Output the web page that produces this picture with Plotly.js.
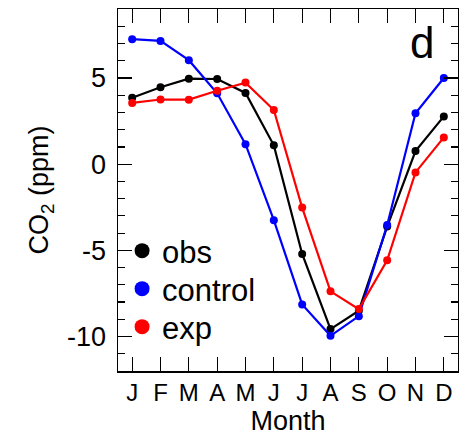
<!DOCTYPE html>
<html><head><meta charset="utf-8">
<script src="https://cdn.plot.ly/plotly-3.0.1.min.js"></script>
<style>body{margin:0;background:#fff}#c{width:459px;height:438px}</style>
</head><body><div id="c"></div>
<script>
const months = [1,2,3,4,5,6,7,8,9,10,11,12];
const monthLabels = ['J','F','M','A','M','J','J','A','S','O','N','D'];
const obs = [3.85, 4.46, 4.96, 4.94, 4.13, 1.09, -5.21, -9.57, -8.5, -3.62, 0.76, 2.77];
const control = [7.25, 7.15, 6.03, 4.11, 1.16, -3.25, -8.14, -9.96, -8.82, -3.53, 2.95, 5.0];
const expv = [3.55, 3.75, 3.74, 4.26, 4.73, 3.14, -2.52, -7.38, -8.41, -5.58, -0.48, 1.55];
const names = ['obs','control','exp'];
const colors = ['#000000','#0000ff','#ff0000'];
const series = [obs, control, expv];
const legendIds = ['legend','legend2','legend3'];

const traces = [];
series.forEach((s,i)=>{
  traces.push({x:months, y:s, mode:'lines+markers', line:{color:colors[i], width:2.2},
    marker:{color:colors[i], size:8}, showlegend:false, hoverinfo:'skip'});
});
series.forEach((s,i)=>{
  traces.push({x:[null], y:[null], mode:'markers', name:names[i], legend:legendIds[i],
    marker:{color:colors[i], size:15}, showlegend:true});
});

function leg(y){
  return {x:0.012, y:y, xanchor:'left', yanchor:'middle', bgcolor:'rgba(0,0,0,0)',
    font:{size:31}, itemsizing:'trace'};
}

const layout = {
  width:459, height:438,
  margin:{l:118, r:1, t:9, b:67},
  paper_bgcolor:'#fff', plot_bgcolor:'#fff',
  font:{family:'Liberation Sans, Arial, sans-serif', color:'#000'},
  showlegend:true,
  legend:leg(0.3315), legend2:leg(0.2265), legend3:leg(0.1215),
  xaxis:{range:[0.5,12.5], tickmode:'array', tickvals:months, ticktext:monthLabels,
    ticks:'inside', ticklen:14, tickwidth:1.2, tickcolor:'#000',
    showline:true, linecolor:'#000', linewidth:1.5, mirror:'allticks',
    showgrid:false, zeroline:false, tickfont:{size:24},
    title:{text:'Month', font:{size:27}, standoff:5}},
  yaxis:{range:[-12,9], tickmode:'array', tickvals:[-10,-5,0,5], ticktext:['-10','-5','0','5'],
    ticks:'inside', ticklen:14, tickwidth:1.2, tickcolor:'#000',
    showline:true, linecolor:'#000', linewidth:1.5, mirror:'allticks',
    showgrid:false, zeroline:false, tickfont:{size:27}, ticklabelstandoff:5,
    minor:{dtick:1, tick0:0, ticks:'inside', ticklen:7, tickwidth:1.2, tickcolor:'#000', showgrid:false},
    title:{text:'CO<sub>2</sub> (ppm)', font:{size:27}, standoff:10}},
  annotations:[{xref:'paper', yref:'paper', x:0.935, y:0.981, xanchor:'right', yanchor:'top',
    text:'d', showarrow:false, font:{size:44}}]
};
Plotly.newPlot('c', traces, layout, {displayModeBar:false, staticPlot:true});
</script>
</body></html>
